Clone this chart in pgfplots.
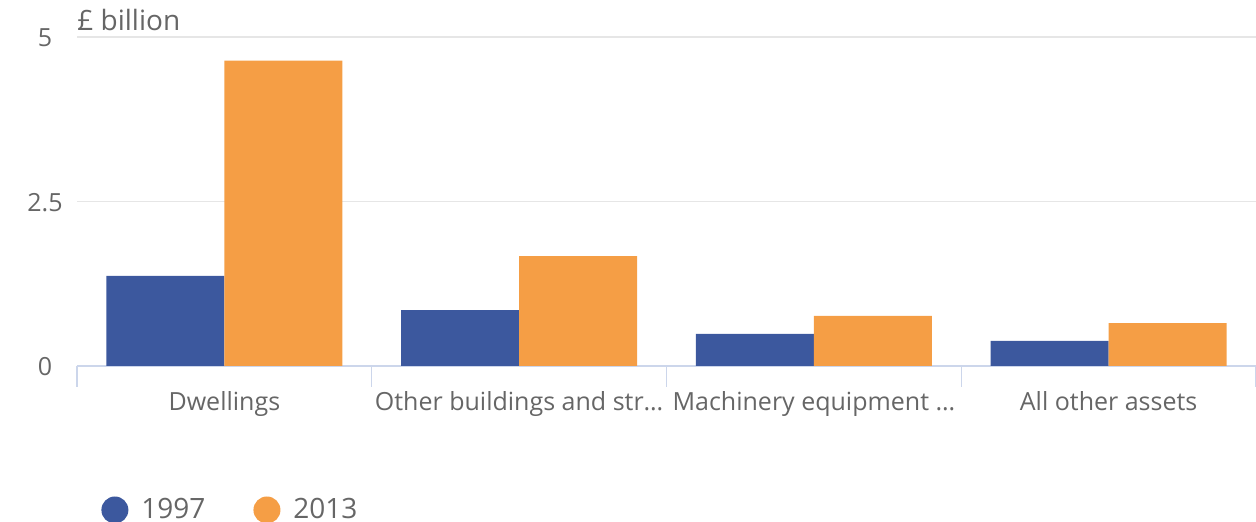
\documentclass[border=0pt]{standalone}
\usepackage{pgfplots}
\pgfplotsset{compat=1.18}
\usepackage{fontspec}
\setmainfont{Open Sans}
\definecolor{cblue}{HTML}{3C589E}
\definecolor{corange}{HTML}{F59E45}
\definecolor{tgray}{HTML}{666666}
\definecolor{gridc}{HTML}{E6E6E6}
\definecolor{axisc}{HTML}{CCD6EB}
\begin{document}
\begin{tikzpicture}
\begin{axis}[
  at={(0pt,0pt)}, anchor=south west,
  scale only axis,
  width=589.5pt, height=164.5pt,
  xmin=-0.5, xmax=3.5, ymin=0, ymax=5,
  axis x line*=bottom, axis y line*=left,
  x axis line style={axisc, line width=0.6pt, -},
  y axis line style={draw=none},
  ytick={0,2.5,5},
  yticklabels={0,2.5,5},
  ymajorgrids, grid style={gridc, line width=0.6pt},
  ytick style={draw=none},
  yticklabel style={font=\fontsize{12.5}{14}\selectfont, text=tgray, anchor=center, xshift=-16pt, yshift=-2pt},
  typeset ticklabels with strut,
  xtick={-0.5,0.5,1.5,2.5,3.5},
  xticklabels={},
  xtick style={axisc, line width=0.6pt},
  xtick align=outside,
  major tick length=10.5pt,
  extra x ticks={0,1,2,3},
  extra x tick labels={Dwellings,Other buildings and str\dots,Machinery equipment \dots,All other assets},
  extra x tick style={major tick length=0pt, xtick style={draw=none}, xticklabel style={font=\fontsize{12.5}{14}\selectfont, text=tgray, yshift=-9pt}},
  ybar, bar width=0.4,
  legend style={draw=none, at={(0,0)}, anchor=west, xshift=9pt, yshift=-72pt, legend columns=2, font=\fontsize{14}{16}\selectfont, text=tgray, /tikz/every even column/.append style={column sep=22pt}},
  legend image code/.code={\path[draw=none,fill=none] (0pt,-1pt) rectangle (18pt,1pt); \fill[#1,draw=none] (6.75pt,0pt) circle (6.75pt);},
  legend cell align=left,
  clip=false,
]
\addplot[fill=cblue, draw=none, bar shift=-0.2] coordinates {(0,1.37) (1,0.85) (2,0.49) (3,0.38)};
\addplot[fill=corange, draw=none, bar shift=0.2] coordinates {(0,4.64) (1,1.67) (2,0.76) (3,0.65)};
\legend{1997,2013}
\node[anchor=south west, font=\fontsize{14}{16}\selectfont, text=tgray, inner sep=0pt] at (rel axis cs:0,1) [yshift=3pt] {£ billion};
\end{axis}
\pgfresetboundingbox
\path[use as bounding box] (-38.5pt,-78pt) rectangle (589.5pt,183pt);
\end{tikzpicture}
\end{document}
